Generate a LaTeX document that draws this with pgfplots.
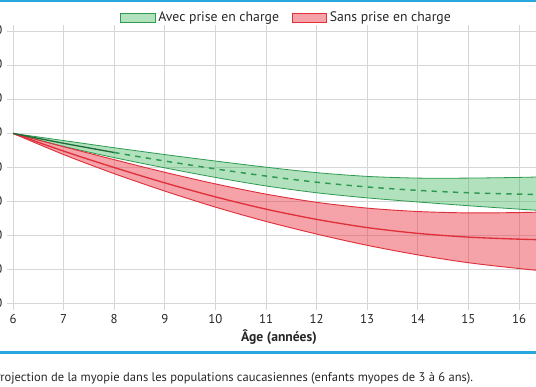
\documentclass[border=0pt]{standalone}
\usepackage{pgfplots}
\pgfplotsset{compat=1.18}
\usepgfplotslibrary{fillbetween}
\usepackage{fontspec}
\setmainfont{PT Sans}
\definecolor{gfill}{HTML}{3CB45A}
\definecolor{gline}{HTML}{2E9A50}
\definecolor{rfill}{HTML}{E8303F}
\definecolor{rline}{HTML}{E0303C}
\definecolor{bluerule}{HTML}{29A8E0}
\definecolor{gridc}{HTML}{D6D6D6}
\begin{document}
\begin{tikzpicture}
\begin{axis}[
  at={(9.75pt,61.5pt)}, anchor=south west,
  x=37.95pt, y=25.59pt,
  xmin=6, xmax=16.55, ymin=-6, ymax=2,
  xtick={6,...,16}, ytick={-6,...,2},
  grid=major, major grid style={gridc, line width=0.75pt},
  axis line style={draw=none},
  tick align=outside,
  major tick length=4.5pt,
  tick style={gridc, line width=0.75pt},
  /pgf/number format/assume math mode=true,
  yticklabel style={/pgf/number format/fixed, /pgf/number format/fixed zerofill, /pgf/number format/precision=1, /pgf/number format/use comma},
  ticklabel style={font=\fontsize{9.6}{11}\selectfont, text=black!85},
  clip=true,
  legend style={at={(0.193,1.0476)}, anchor=west, draw=none, fill=none,
    legend columns=2, font=\fontsize{10.3}{12}\selectfont, text=black!85,
    /tikz/every even column/.append style={column sep=7.5pt}},
  legend cell align=left,
]
\addlegendimage{legend image code/.code={\draw[fill=gfill!40, draw=gline, line width=0.6pt] (0pt,-3.4pt) rectangle (26pt,3.4pt);}}
\addlegendentry{Avec prise en charge}
\addlegendimage{legend image code/.code={\draw[fill=rfill!45, draw=rline, line width=0.6pt] (0pt,-3.4pt) rectangle (26pt,3.4pt);}}
\addlegendentry{Sans prise en charge}

% green band
\addplot[name path=gu, gline, line width=0.6pt, smooth, forget plot] coordinates {
(6,-1) (7,-1.21) (8,-1.42) (9,-1.62) (10,-1.81) (11,-1.99) (12,-2.15) (13,-2.26) (14,-2.31) (15,-2.31) (16,-2.29) (16.55,-2.27)};
\addplot[name path=gl, gline, line width=0.6pt, smooth, forget plot] coordinates {
(6,-1) (7,-1.38) (8,-1.71) (9,-2.01) (10,-2.29) (11,-2.54) (12,-2.74) (13,-2.89) (14,-3.01) (15,-3.12) (16,-3.22) (16.55,-3.27)};
\addplot[fill=gfill, fill opacity=0.4, draw=none, forget plot] fill between[of=gu and gl];
% red band
\addplot[name path=ru, rline, line width=0.7pt, smooth, forget plot] coordinates {
(6,-1) (7,-1.39) (8,-1.77) (9,-2.14) (10,-2.48) (11,-2.78) (12,-3.02) (13,-3.19) (14,-3.29) (15,-3.33) (16,-3.32) (16.55,-3.30)};
\addplot[name path=rl, rline, line width=0.7pt, smooth, forget plot] coordinates {
(6,-1) (7,-1.62) (8,-2.18) (9,-2.69) (10,-3.16) (11,-3.58) (12,-3.95) (13,-4.28) (14,-4.56) (15,-4.79) (16,-4.96) (16.55,-5.04)};
\addplot[fill=rfill, fill opacity=0.45, draw=none, forget plot] fill between[of=ru and rl];
% centre lines
\addplot[rline, line width=1pt, smooth, forget plot] coordinates {
(6,-1) (7,-1.52) (8,-2.00) (9,-2.45) (10,-2.86) (11,-3.22) (12,-3.52) (13,-3.76) (14,-3.93) (15,-4.04) (16,-4.10) (16.55,-4.12)};
\addplot[gline!70!black, line width=1pt, smooth, forget plot] coordinates {
(6,-1) (7,-1.29) (8,-1.56)};
\addplot[gline, line width=1.1pt, dash pattern=on 4pt off 4pt, smooth, forget plot] coordinates {
(8,-1.56) (9,-1.81) (10,-2.04) (11,-2.25) (12,-2.43) (13,-2.57) (14,-2.67) (15,-2.74) (16,-2.78) (16.55,-2.80)};
\end{axis}
\begin{scope}[x=0.75pt,y=0.75pt]
\fill[bluerule] (0,384) rectangle (536,386);
\fill[bluerule] (0,32.5) rectangle (536,35);
\node[font=\bfseries\fontsize{10.2}{12}\selectfont, text=black!85, anchor=base] at (279,45) {Âge (années)};
\node[font=\fontsize{9.4}{11}\selectfont, text=black!85, anchor=base west, inner sep=0pt] at (-6.5,5) {Projection de la myopie dans les populations caucasiennes (enfants myopes de 3 à 6 ans).};
\end{scope}
\pgfresetboundingbox
\path (0pt,0pt) rectangle (402pt,289.5pt);
\end{tikzpicture}
\end{document}
